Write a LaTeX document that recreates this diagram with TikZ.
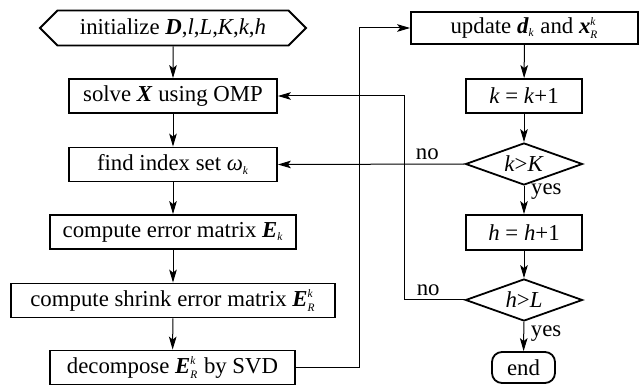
\documentclass[tikz,border=0pt]{standalone}
\usepackage{amsmath}
\usepackage{fontspec}
\setmainfont{Liberation Serif}
\usetikzlibrary{arrows.meta,shapes.geometric,shapes.symbols}
\newcommand{\vi}[1]{\textit{#1}}
\newcommand{\vb}[1]{\textbf{\textit{#1}}}
\newcommand{\ssc}[1]{{\scriptscriptstyle\vi{#1}}}

\begin{document}
\begin{tikzpicture}[x=0.5pt,y=-0.5pt,>={Stealth[length=6.5pt,width=3.8pt,inset=1.5pt]},
  font=\fontsize{11.4}{13}\selectfont,
  box/.style={draw,line width=0.9pt,minimum height=17pt,inner sep=0pt},
  cond/.style={draw,line width=0.9pt,diamond,aspect=2.8,minimum width=58.5pt,minimum height=21pt,inner sep=0pt},
  link/.style={->,line width=0.5pt}]
  \useasboundingbox (0,0) rectangle (639,385);
  \coordinate (jump) at (359,0);
  \coordinate (loop) at (404,0);

  % left column
  \node[box,signal,signal to=west and east,signal pointer angle=90,minimum width=133pt,minimum height=17.5pt] (init) at (173,28) {initialize \vb{D},\vi{l},\vi{L},\vi{K},\vi{k},\vi{h}};
  \node[box,minimum width=104pt] (solve) at (173,96) {solve \vb{X} using OMP};
  \node[box,minimum width=104pt] (find) at (173,164.5) {find index set $\vi{ω}_\ssc{k}$};
  \node[box,minimum width=123pt] (error) at (173,232) {compute error matrix $\vb{E}_\ssc{k}$};
  \node[box,minimum width=162pt] (shrink) at (173,300.5) {compute shrink error matrix $\vb{E}^\ssc{k}_\ssc{R}$};
  \node[box,minimum width=122.5pt] (decomp) at (172.5,367.5) {decompose $\vb{E}^\ssc{k}_\ssc{R}$ by SVD};

  % right column
  \node[box,minimum width=113.5pt,minimum height=16pt] (update) at (524.5,28) {update $\vb{d}_\ssc{k}$ and $\vb{x}^\ssc{k}_\ssc{R}$};
  \node[box,minimum width=58pt] (kinc) at (524,96) {\vi{k} = \vi{k}+1};
  \node[cond] (kcmp) at (524,164) {\vi{k}>\vi{K}};
  \node[box,minimum width=58pt,minimum height=17.5pt] (hinc) at (524,232.5) {\vi{h} = \vi{h}+1};
  \node[cond] (hcmp) at (524,300) {\vi{h}>\vi{L}};
  \node[box,rounded corners=5pt,minimum width=31.5pt,minimum height=15.5pt] (stop) at (523.5,367.5) {end};

  \draw[link] (init) -- (solve);
  \draw[link] (solve) -- (find);
  \draw[link] (find) -- (error);
  \draw[link] (error) -- (shrink);
  \draw[link] (shrink) -- (decomp);
  \draw[link] (decomp.east) -- (decomp.east -| jump) |- (update.west);
  \draw[link] (update) -- (kinc);
  \draw[link] (kinc) -- (kcmp);
  \draw[link] (kcmp.west) -- node[above,pos=0.2,inner sep=2pt] {no} (find.east);
  \draw[link] (kcmp) -- node[right,pos=0.2] {yes} (hinc);
  \draw[link] (hinc) -- (hcmp);
  \draw[link] (hcmp.west) -- node[above,pos=0.6,inner sep=2pt] {no} (hcmp.west -| loop) |- (solve.east);
  \draw[link] (hcmp) -- node[right,pos=0.4] {yes} (stop);
\end{tikzpicture}
\end{document}
